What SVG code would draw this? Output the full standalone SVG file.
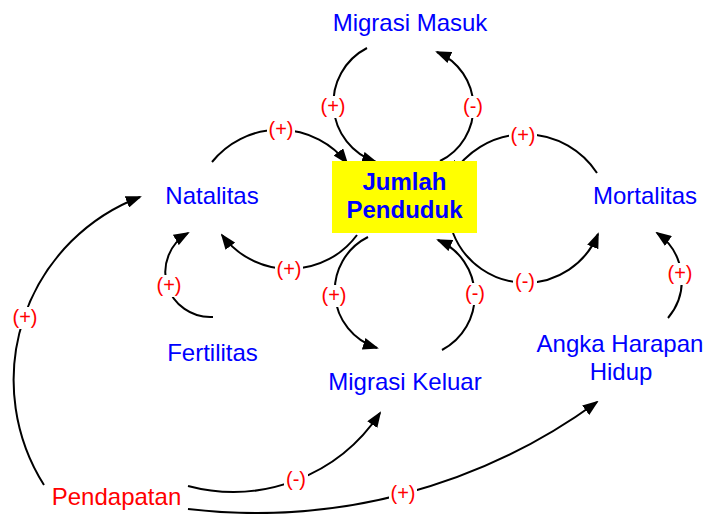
<svg xmlns="http://www.w3.org/2000/svg" width="707" height="514" viewBox="0 0 707 514">
<style>
.node{font-family:"Liberation Sans",Arial,sans-serif;font-size:24px;fill:#0000ff;text-anchor:middle}
.red{fill:#ff0000}
.bold{font-weight:bold}
.lbl{font-family:"Liberation Sans",Arial,sans-serif;font-size:20px;fill:#ff0000;text-anchor:middle}
.bg{fill:#ffffff}
.c{fill:none;stroke:#000000;stroke-width:2;marker-end:url(#ah)}
</style>
<defs>
<marker id="ah" viewBox="0 0 16 12" refX="14" refY="6" markerWidth="16" markerHeight="12" markerUnits="userSpaceOnUse" orient="auto">
<path d="M0,0 L16,6 L0,12 Z" fill="#000000"/>
</marker>
</defs>
<rect width="707" height="514" fill="#ffffff"/>
<g id="connectors">
<path class="c" d="M212,162 A86,86 0 0 1 347,163"/>
<path class="c" d="M367,48 A62,62 0 0 0 376,162"/>
<path class="c" d="M440,161 A60,60 0 0 0 437,52"/>
<path class="c" d="M597,173 A86,86 0 0 0 452,175"/>
<path class="c" d="M453,233 A78,78 0 0 0 598,234"/>
<path class="c" d="M357,235 A84,84 0 0 1 222,235"/>
<path class="c" d="M368,237 A60,60 0 0 0 377,348"/>
<path class="c" d="M442,350 A61,61 0 0 0 438,240"/>
<path class="c" d="M213,317 A45,45 0 0 1 188,233"/>
<path class="c" d="M44,485 A196,196 0 0 1 140,197"/>
<path class="c" d="M668,318 A58,58 0 0 0 657,233"/>
<path class="c" d="M188,486 A176,176 0 0 0 380,413"/>
<path class="c" d="M188,509 A579,579 0 0 0 597,402"/>
<rect class="bg" x="267" y="119" width="28" height="22"/>
<rect class="bg" x="319" y="96" width="28" height="22"/>
<rect class="bg" x="461" y="96" width="24" height="22"/>
<rect class="bg" x="509" y="125" width="28" height="22"/>
<rect class="bg" x="513" y="271" width="24" height="22"/>
<rect class="bg" x="275" y="259" width="28" height="22"/>
<rect class="bg" x="320" y="285" width="28" height="22"/>
<rect class="bg" x="463" y="283" width="24" height="22"/>
<rect class="bg" x="155" y="275" width="28" height="22"/>
<rect class="bg" x="11" y="307" width="28" height="22"/>
<rect class="bg" x="666" y="263" width="28" height="22"/>
<rect class="bg" x="284" y="469" width="24" height="22"/>
<rect class="bg" x="389" y="483" width="28" height="22"/>
<text class="lbl" x="281" y="136">(+)</text>
<text class="lbl" x="333" y="113">(+)</text>
<text class="lbl" x="473" y="113">(-)</text>
<text class="lbl" x="523" y="142">(+)</text>
<text class="lbl" x="525" y="288">(-)</text>
<text class="lbl" x="289" y="276">(+)</text>
<text class="lbl" x="334" y="302">(+)</text>
<text class="lbl" x="475" y="300">(-)</text>
<text class="lbl" x="169" y="292">(+)</text>
<text class="lbl" x="25" y="324">(+)</text>
<text class="lbl" x="680" y="280">(+)</text>
<text class="lbl" x="296" y="486">(-)</text>
<text class="lbl" x="403" y="500">(+)</text>
</g>
<g id="jumlah-penduduk">
<rect x="332" y="161" width="145" height="72" fill="#ffff00"/>
<text class="node bold" x="404.5" y="190">Jumlah</text>
<text class="node bold" x="404.5" y="218">Penduduk</text>
</g>
<g id="migrasi-masuk"><text class="node" x="410" y="31">Migrasi Masuk</text></g>
<g id="natalitas"><text class="node" x="212" y="204">Natalitas</text></g>
<g id="mortalitas"><text class="node" x="645" y="204">Mortalitas</text></g>
<g id="fertilitas"><text class="node" x="212.5" y="361">Fertilitas</text></g>
<g id="migrasi-keluar"><text class="node" x="405" y="390">Migrasi Keluar</text></g>
<g id="angka-harapan-hidup"><text class="node" x="620" y="352">Angka Harapan</text><text class="node" x="621" y="380">Hidup</text></g>
<g id="pendapatan"><text class="node red" x="116.5" y="505">Pendapatan</text></g>
</svg>
